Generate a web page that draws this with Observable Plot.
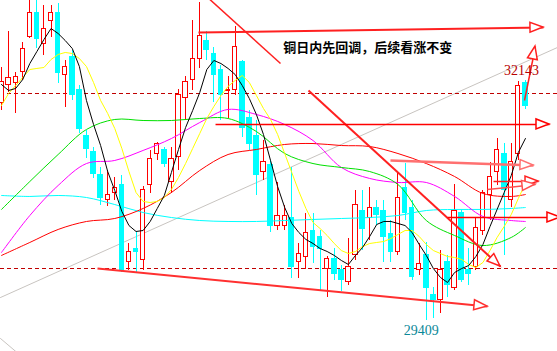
<!DOCTYPE html>
<html><head><meta charset="utf-8">
<script src="https://cdn.jsdelivr.net/npm/d3@7"></script>
<script src="https://cdn.jsdelivr.net/npm/@observablehq/plot@0.6"></script>
<style>html,body{margin:0;padding:0;background:#fff}svg{display:block;overflow:hidden}</style>
</head><body><div id="chart"></div>
<script>
// ---- candle data (OHLC), one entry per bar ----
const opens  = [31892,32086,32109,32234,32633,32917,32564,32815,32906,32211,32416,32029,31516,31323,31061,30776,30856,30958,30081,30218,30093,30947,31300,31346,30981,31266,31938,32143,32382,32587,32439,32257,32018,32029,32348,31721,31516,31095,31175,30491,30491,30571,30070,30138,30434,30355,30001,30115,29979,29853,30150,30651,30571,30685,30662,30400,30184,30913,30696,29979,30150,29694,29637,30070,29774,30628,29990,30024,30434,30833,31106,31311,30787,31311,32109];
const highs  = [32291,32701,32234,32576,33111,33111,32997,32997,33020,32371,32485,32086,31573,31380,31152,31118,31038,31061,30286,30411,30935,31346,31437,31380,31380,32040,32188,32826,33031,32701,32519,32314,32188,32758,32371,31801,31687,31459,31232,30981,30719,31152,30286,30628,30628,30434,30138,30229,30036,30343,30890,30890,30924,30776,30776,30548,31095,31197,30776,30286,30298,29785,30206,30150,30958,30662,30229,30571,30890,31209,31482,31425,31425,32131,32143];
const lows   = [31801,32006,31767,32143,32621,32507,32428,32633,32109,31835,31915,31539,31254,31027,30719,30708,30776,29956,29979,29956,29979,30856,31232,31152,30856,31118,31687,32029,32280,32371,31892,31687,31710,31972,31494,31346,30833,31004,30411,30434,30434,29888,29888,29990,30058,29751,29671,29865,29740,29808,30093,30206,30320,30491,30070,30070,30150,30548,29865,29922,29409,29432,29489,29671,29751,29842,29808,29979,30377,30548,30947,30150,30696,31232,31813];
const closes = [32120,32166,32177,32496,32917,32621,32724,32906,32223,32291,31983,31596,31368,31083,30799,30833,30924,29979,30195,30184,30890,31243,31414,31197,31254,31983,32120,32382,32655,32485,32211,31983,32040,32519,31607,31425,31061,31209,30491,30605,30605,30013,30161,30411,30241,30229,30115,29944,29876,30013,30719,30457,30696,30616,30355,30184,30810,30639,29899,30058,29774,29637,29979,29808,30662,29865,29944,30468,30856,31049,31346,30890,31220,32075,31858];

// ---- moving averages ----
const ma5  = [32097,32029,32052,32154,32336,32473,32610,32735,32678,32598,32507,32302,31915,31642,31402,31106,30890,30651,30491,30423,30434,30537,30685,30833,31095,31357,31607,31801,32006,32268,32371,32336,32280,32211,32086,31938,31756,31528,31232,30935,30696,30514,30411,30332,30286,30229,30195,30150,30093,30047,30150,30241,30366,30503,30537,30537,30514,30491,30411,30275,30150,30001,29899,29842,29956,30001,30036,30138,30275,30480,30674,30867,31061,31323,31482];
const ma10 = [31858,31995,32086,32177,32268,32280,32291,32382,32439,32462,32450,32393,32302,32120,31915,31767,31596,31368,31106,30867,30765,30753,30765,30810,30901,31038,31197,31368,31539,31710,31847,31972,32075,32143,32200,32120,31972,31824,31699,31528,31311,31095,30879,30685,30525,30457,30377,30286,30206,30172,30195,30252,30286,30298,30309,30343,30389,30434,30434,30366,30275,30206,30172,30138,30127,30104,30047,30013,30070,30206,30355,30480,30616,30799,30970];
const slowIdx = [0,4,8,12,16,20,24,28,32,36,40,44,48,52,56,60,64,68,72,74];
const ma20  = [30674,30992,31300,31585,31699,31687,31687,31710,31710,31562,31311,31197,31152,31106,30958,30548,30377,30263,30355,30468];
const ma30  = [30184,30605,30947,31197,31232,31346,31482,31664,31813,31756,31642,31459,31152,31027,30981,30981,30822,30594,30548,30537];
const ma60  = [30150,30298,30446,30537,30571,30685,30867,31118,31300,31357,31414,31425,31402,31391,31311,31197,31049,30856,30822,30844];
const ma120 = [30833,30822,30833,30810,30730,30639,30582,30548,30537,30537,30548,30560,30571,30582,30605,30662,30674,30674,30685,30696];

// ---- annotations ----
const levels = [32000, 30000];
const highLabel = 32143, highLabelBar = 73.45;
const lowLabel = 29409, lowLabelBar = 59.3;
const note = "铜日内先回调，后续看涨不变";
const noteBar = 39.8, notePrice = 32519;
const grayLines = [
  [{i:-0.14, p:29671}, {i:78.53, p:32519}],
  [{i:-0.14, p:29204}, {i:2.68, p:29011}]
];
const trendLines = [
  {x1:27.82, y1:32690, x2:76.55, y2:32746, head:true,  w:2,   c:"#ff2020"},
  {x1:28.81, y1:33111, x2:39.41, y2:32336, head:false, w:1.5, c:"#ff2020"},
  {x1:43.36, y1:32029, x2:70.48, y2:30024, head:true,  w:2,   c:"#ff2020"},
  {x1:13.56, y1:30001, x2:68.64, y2:29569, head:true,  w:2,   c:"#ff3030"},
  {x1:30.23, y1:31642, x2:77.40, y2:31642, head:true,  w:1.5, c:"#ff0000"},
  {x1:54.94, y1:31232, x2:75.14, y2:31175, head:true,  w:2.5, c:"#ff7070"},
  {x1:69.49, y1:30992, x2:75.85, y2:30992, head:true,  w:1.5, c:"#ff2020"},
  {x1:68.64, y1:30901, x2:75.42, y2:30958, head:true,  w:1.5, c:"#ff5050"},
  {x1:63.00, y1:30582, x2:78.95, y2:30582, head:true,  w:1.5, c:"#ff0000"},
  {x1:73.87, y1:31915, x2:75.42, y2:32530, head:true,  w:1.5, c:"#ff2020"}
];

// ---- tables ----
const candles = opens.map((o, i) => ({i, o, h: highs[i], l: lows[i], c: closes[i], up: closes[i] >= o,
  top: Math.max(o, closes[i]), bot: Math.min(o, closes[i])}));
const ups = candles.filter(d => d.up), downs = candles.filter(d => !d.up);
const fast = ma5.map((v, i) => ({i, ma5: v, ma10: ma10[i]}));
const slow = slowIdx.map((i, k) => ({i, ma20: ma20[k], ma30: ma30[k], ma60: ma60[k], ma120: ma120[k]}));

const W = 557, H = 351;
const plot = Plot.plot({
  width: W, height: H,
  margin: 0,
  style: {background: "#fff", overflow: "hidden"},
  x: {domain: [-0.1412, 78.531], axis: null},
  y: {domain: [29056, 33054], axis: null},
  marks: [
    ...grayLines.map(g => Plot.line(g, {x: "i", y: "p", stroke: "#c8c4c0", strokeWidth: 1})),
    Plot.ruleY(levels, {stroke: "#c00000", strokeWidth: 1, strokeDasharray: "4,3", shapeRendering: "crispEdges"}),
    Plot.ruleX(ups, {x: "i", y1: "l", y2: "h", stroke: "#ff0000", strokeWidth: 1, shapeRendering: "crispEdges"}),
    Plot.ruleX(downs, {x: "i", y1: "l", y2: "h", stroke: "#00ffff", strokeWidth: 1, shapeRendering: "crispEdges"}),
    Plot.rect(ups, {x1: d => d.i - 0.3, x2: d => d.i + 0.3, y1: "bot", y2: "top", fill: "#fff", stroke: "#ff0000", strokeWidth: 1, shapeRendering: "crispEdges"}),
    Plot.rect(downs, {x1: d => d.i - 0.33, x2: d => d.i + 0.33, y1: "bot", y2: "top", fill: "#00ffff", stroke: "#00ffff", strokeWidth: 1, shapeRendering: "crispEdges"}),
    Plot.line(slow, {x: "i", y: "ma120", stroke: "#00ffff", strokeWidth: 1, curve: "catmull-rom"}),
    Plot.line(slow, {x: "i", y: "ma60", stroke: "#ff0000", strokeWidth: 1, curve: "catmull-rom"}),
    Plot.line(slow, {x: "i", y: "ma30", stroke: "#ff00ff", strokeWidth: 1, curve: "catmull-rom"}),
    Plot.line(slow, {x: "i", y: "ma20", stroke: "#00e000", strokeWidth: 1, curve: "catmull-rom"}),
    Plot.line(fast, {x: "i", y: "ma10", stroke: "#ffff00", strokeWidth: 1}),
    Plot.line(fast, {x: "i", y: "ma5", stroke: "#000", strokeWidth: 1}),
    ...trendLines.map(t => Plot.link([t], {x1: "x1", y1: "y1", x2: "x2", y2: "y2", stroke: t.c, strokeWidth: t.w})),
    Plot.text([note], {x: noteBar, y: notePrice, text: d => d, textAnchor: "start", fontSize: 13, fontWeight: "bold", fill: "#000", fontFamily: "'Noto Sans CJK SC', sans-serif"}),
    Plot.text([highLabel], {x: highLabelBar, y: highLabel, dy: -10, text: d => String(d), fontSize: 14, fill: "#b80000", fontFamily: "'Liberation Serif', serif"}),
    Plot.text([lowLabel], {x: lowLabelBar, y: lowLabel, dy: 10, text: d => String(d), fontSize: 14, fill: "#0a8898", fontFamily: "'Liberation Serif', serif"})
  ]
});
document.getElementById("chart").appendChild(plot);

// hollow triangular arrow heads placed through Plot's own scales
const sx = plot.scale("x"), sy = plot.scale("y");
const svg = d3.select(plot);
const L = 13, Wh = 5;
trendLines.filter(t => t.head).forEach(t => {
  const ax = sx.apply(t.x1), ay = sy.apply(t.y1), bx = sx.apply(t.x2), by = sy.apply(t.y2);
  const len = Math.hypot(bx - ax, by - ay), ux = (bx - ax) / len, uy = (by - ay) / len;
  const cx = bx - L * ux, cy = by - L * uy;
  const pts = [[bx, by], [cx - Wh * uy, cy + Wh * ux], [cx + Wh * uy, cy - Wh * ux]];
  svg.append("polygon").attr("points", pts.map(p => p.join(",")).join(" "))
    .attr("fill", "#fff").attr("stroke", t.c).attr("stroke-width", 1.5);
});
</script></body></html>
